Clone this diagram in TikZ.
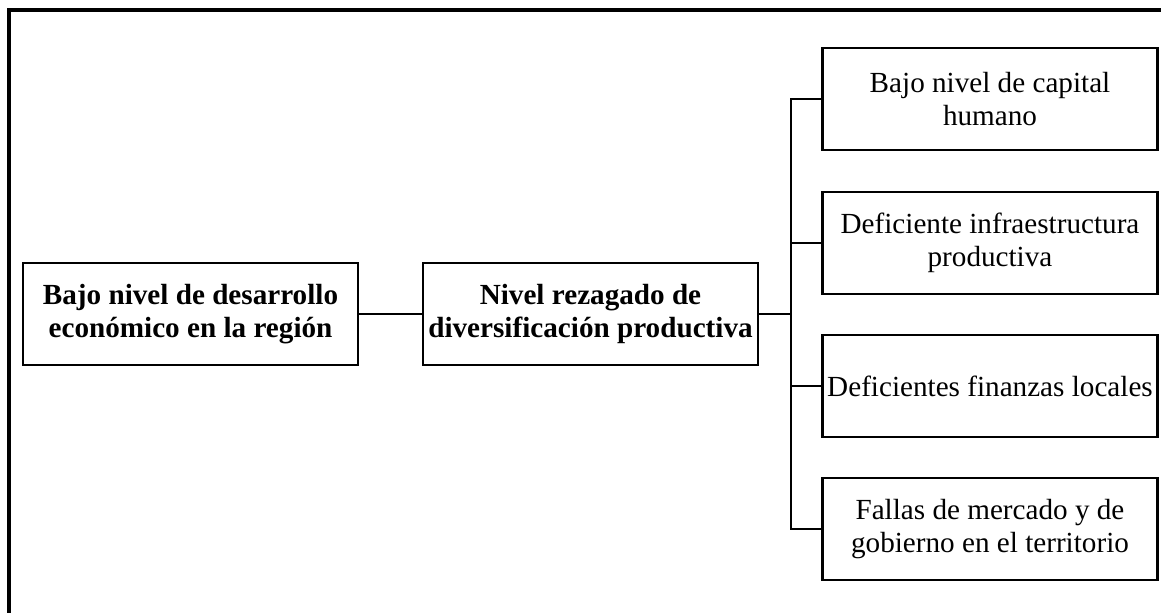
\documentclass[tikz,border=0pt]{standalone}
\usepackage{fontspec}
\setmainfont{Liberation Serif}
\begin{document}
\begin{tikzpicture}[x=0.02cm, y=-0.02cm,
    box/.style={draw, line width=1.3pt, minimum width=6.7cm, minimum height=2.04cm,
      inner sep=0pt, align=center, font=\fontsize{16.6}{18.5}\selectfont},
    bbox/.style={box, font=\fontsize{16.6}{18.5}\selectfont\bfseries},
    link/.style={line width=1.3pt}]
    \useasboundingbox (0, 0) rectangle (1161, 613);

    % Frame
    \draw [line width=2pt] (1161, 10) -- (9, 10) -- (9, 613);

    % Problem and central cause
    \node [bbox] (dev) at (190.5, 314) {Bajo nivel de desarrollo\\econ\'omico en la regi\'on};
    \node [bbox] (div) at (590.5, 314) {Nivel rezagado de\\diversificaci\'on productiva};

    % Causes
    \node [box] (c1) at (990, 99)  {Bajo nivel de capital\\humano};
    \node [box] (c2) at (990, 243) {Deficiente infraestructura\\productiva};
    \node [box] (c3) at (990, 386) {Deficientes finanzas locales};
    \node [box] (c4) at (990, 529) {Fallas de mercado y de\\gobierno en el territorio};

    % Connections
    \path (791, 314) coordinate (hub);
    \draw [link] (dev) -- (div);
    \draw [link] (div) -- (hub);
    \foreach \i in {1, ..., 4} {
      \draw [link] (hub) |- (c\i);
    }
\end{tikzpicture}
\end{document}
